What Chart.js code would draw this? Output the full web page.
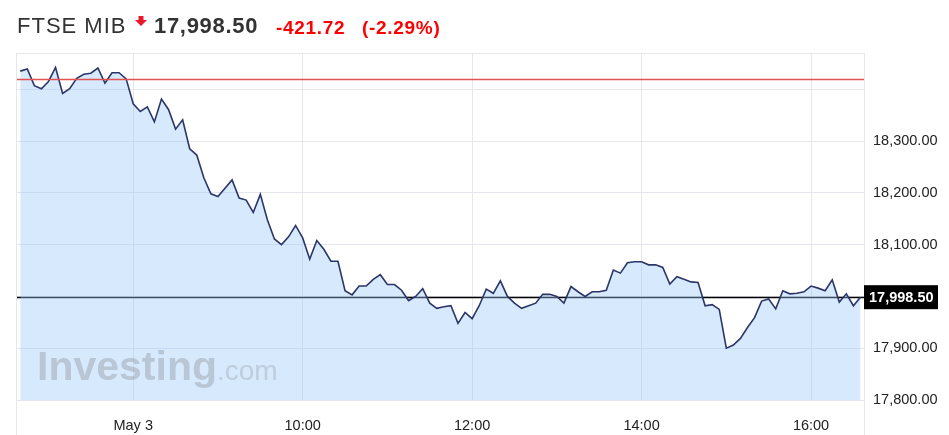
<!DOCTYPE html>
<html lang="en">
<head>
  <meta charset="UTF-8">
  <title>FTSE MIB intraday</title>
  <script src="https://cdn.jsdelivr.net/npm/chart.js"></script>
  <style>
    body {
      margin: 0;
      background: #fff;
      font-family: "Liberation Sans", Arial, sans-serif;
    }
    .wrap {
      position: relative;
      width: 949px;
      height: 435px;
    }
    .hdr span {
      position: absolute;
      line-height: 1;
      white-space: nowrap;
    }
    .name { left: 17px; top: 15px; font-size: 22px; color: #333; letter-spacing: 1px; }
    .price { left: 154px; top: 15px; font-size: 22px; font-weight: bold; color: #333; letter-spacing: 0.7px; }
    .chg { top: 18px; font-size: 19px; font-weight: bold; color: #f00; letter-spacing: 0.7px; }
    .arrow { position: absolute; left: 135px; top: 16px; }
    canvas { position: absolute; left: 0; top: 0; }
  </style>
</head>
<body>
  <div class="wrap">
    <canvas id="chart" width="949" height="435"></canvas>
    <div class="hdr">
      <span class="name">FTSE MIB</span>
      <svg class="arrow" width="12" height="10" viewBox="0 0 12 10">
        <path d="M3.5 0 H8.5 V4 H12 L6 10 L0 4 H3.5 Z" fill="#e8192c"/>
      </svg>
      <span class="price">17,998.50</span>
      <span class="chg" style="left:276px">-421.72</span>
      <span class="chg" style="left:362px">(-2.29%)</span>
    </div>
  </div>

  <script>
    // 5 minute closes, first point at 06:40
    const startMinute = 400;
    const stepMinutes = 5;
    const closes = [
      18435, 18439, 18407, 18401, 18415, 18442, 18392, 18401, 18421, 18429,
      18431, 18441, 18412, 18432, 18432, 18420, 18372, 18357, 18366, 18337,
      18381, 18361, 18323, 18341, 18285, 18273, 18229, 18198, 18193, 18209,
      18225, 18190, 18186, 18162, 18197, 18148, 18111, 18100, 18115, 18137,
      18113, 18072, 18108, 18091, 18068, 18068, 18011, 18003, 18020, 18020,
      18033, 18042, 18023, 18023, 18012, 17992, 18000, 18015, 17987, 17977,
      17980, 17982, 17948, 17969, 17957, 17982, 18014, 18006, 18030, 18000,
      17987, 17977, 17982, 17987, 18004, 18004, 18000, 17987, 18019, 18009,
      18000, 18009, 18009, 18012, 18051, 18045, 18065, 18067, 18067, 18061,
      18061, 18056, 18024, 18038, 18033, 18028, 18027, 17982, 17984, 17975,
      17900, 17906, 17919, 17940, 17959, 17991, 17995, 17976, 18011, 18005,
      18006, 18009, 18020, 18016, 18011, 18032, 17989, 18005, 17982, 17998.5
    ];
    const prevClose = 18420.22;
    const lastPrice = 17998.50;

    const yTicks = [17800, 17900, 18000, 18100, 18200, 18300, 18400];
    const yHidden = [18000, 18400];
    const xTicks = [480, 600, 720, 840, 960];
    const xTickLabels = ["May 3", "10:00", "12:00", "14:00", "16:00"];

    const points = closes.map((v, i) => ({ x: startMinute + i * stepMinutes, y: v }));

    const gridColor = "#e6e7ee";
    const fmt = (v) => v.toLocaleString("en-US", { minimumFractionDigits: 2, maximumFractionDigits: 2 });

    const overlay = {
      id: "overlay",
      beforeDatasetsDraw(chart) {
        const { ctx, chartArea: a, scales: { y } } = chart;
        // last price line sits under the translucent fill
        const yl = Math.round(y.getPixelForValue(lastPrice)) + 0.5;
        ctx.save();
        ctx.strokeStyle = "#000";
        ctx.lineWidth = 1.5;
        ctx.beginPath();
        ctx.moveTo(a.left, yl);
        ctx.lineTo(a.right, yl);
        ctx.stroke();
        ctx.restore();
      },
      afterDatasetsDraw(chart) {
        const { ctx, chartArea: a, scales: { y } } = chart;
        ctx.save();
        // watermark
        ctx.fillStyle = "rgba(140,145,155,0.4)";
        ctx.textBaseline = "alphabetic";
        ctx.font = "bold 41px 'Liberation Sans', Arial, sans-serif";
        ctx.fillText("Investing", 37, 380);
        const w = ctx.measureText("Investing").width;
        ctx.fillStyle = "rgba(140,145,155,0.32)";
        ctx.font = "28px 'Liberation Sans', Arial, sans-serif";
        ctx.fillText(".com", 37 + w, 380);

        // previous close
        const yr = Math.round(y.getPixelForValue(prevClose)) + 0.5;
        ctx.strokeStyle = "#e25252";
        ctx.lineWidth = 1.5;
        ctx.beginPath();
        ctx.moveTo(a.left, yr);
        ctx.lineTo(a.right, yr);
        ctx.stroke();

        // frame
        ctx.strokeStyle = gridColor;
        ctx.lineWidth = 1;
        ctx.beginPath();
        ctx.moveTo(a.left + 0.5, a.top);
        ctx.lineTo(a.left + 0.5, 435);
        ctx.moveTo(a.right + 0.5, a.top);
        ctx.lineTo(a.right + 0.5, 435);
        ctx.moveTo(a.left, a.top + 0.5);
        ctx.lineTo(a.right, a.top + 0.5);
        ctx.stroke();

        // last price tag
        const yl = y.getPixelForValue(lastPrice);
        ctx.fillStyle = "#000";
        ctx.fillRect(a.right, yl - 12, 74, 24);
        ctx.fillStyle = "#fff";
        ctx.font = "bold 14.5px 'Liberation Sans', Arial, sans-serif";
        ctx.textBaseline = "middle";
        ctx.fillText(fmt(lastPrice), a.right + 5, yl + 1);
        ctx.restore();
      }
    };

    new Chart(document.getElementById("chart"), {
      type: "line",
      data: {
        datasets: [{
          data: points,
          borderColor: "#2b3668",
          borderWidth: 1.6,
          backgroundColor: "rgba(155,200,248,0.4)",
          fill: "start",
          pointRadius: 0,
          tension: 0
        }]
      },
      options: {
        responsive: false,
        animation: false,
        layout: { padding: { left: 16, top: 53, right: 0, bottom: 0 } },
        plugins: { legend: { display: false }, tooltip: { enabled: false } },
        scales: {
          x: {
            type: "linear",
            min: 397,
            max: 997.5,
            afterBuildTicks: (s) => { s.ticks = xTicks.map((v) => ({ value: v })); },
            afterFit: (s) => { s.height = 35; },
            grid: { color: gridColor, drawTicks: false },
            border: { display: false },
            ticks: {
              padding: 17,
              color: "#222",
              font: { family: "'Liberation Sans', Arial, sans-serif", size: 14.5 },
              callback: (v) => xTickLabels[xTicks.indexOf(v)]
            }
          },
          y: {
            position: "right",
            min: 17800,
            max: 18470,
            afterBuildTicks: (s) => { s.ticks = yTicks.map((v) => ({ value: v })); },
            afterFit: (s) => { s.width = 85; },
            grid: { color: gridColor, drawTicks: false },
            border: { display: false },
            ticks: {
              padding: 9,
              color: "#222",
              font: { family: "'Liberation Sans', Arial, sans-serif", size: 14.5 },
              callback: (v) => (yHidden.includes(v) ? "" : fmt(v))
            }
          }
        }
      },
      plugins: [overlay]
    });
  </script>
</body>
</html>
